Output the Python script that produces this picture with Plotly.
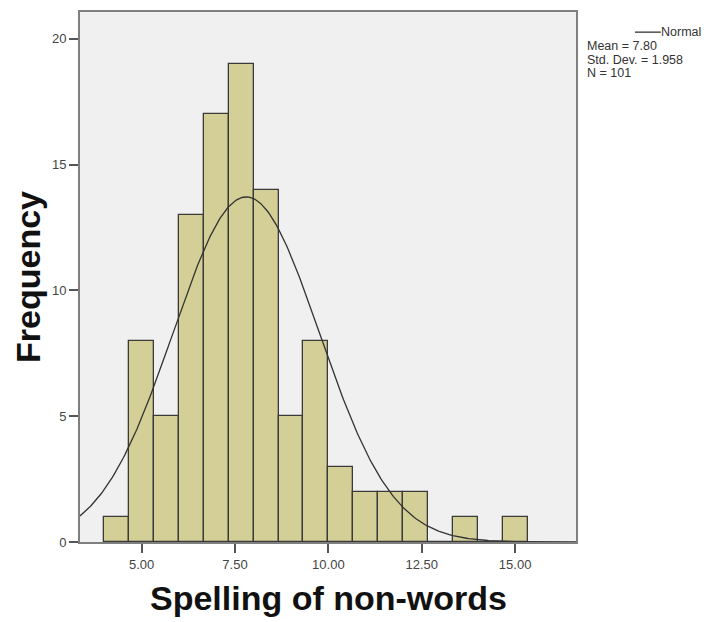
import numpy as np
import plotly.graph_objects as go

# Histogram of spelling of non-words scores (bin counts)
bin_start = 4.0
bin_width = 2.0 / 3.0
counts = [1, 8, 5, 13, 17, 19, 14, 5, 8, 3, 2, 2, 2, 0, 1, 0, 1]

# Summary statistics for the fitted normal curve
mean_val = 7.80
std_val = 1.958
n_val = 101

x_range = [3.35, 16.63]
y_range = [0, 21.07]
x_ticks = [5.0, 7.5, 10.0, 12.5, 15.0]
y_ticks = [0, 5, 10, 15, 20]

centers = [bin_start + bin_width * (i + 0.5) for i in range(len(counts))]

xs = np.linspace(x_range[0], x_range[1], 400)
ys = n_val * bin_width / (std_val * np.sqrt(2 * np.pi)) * np.exp(-0.5 * ((xs - mean_val) / std_val) ** 2)

fig = go.Figure()
fig.add_trace(go.Bar(
    x=centers, y=counts, width=bin_width,
    marker=dict(color="#D4CF96", line=dict(color="#3A3A3A", width=1.3)),
    showlegend=False, hoverinfo="x+y",
))
fig.add_trace(go.Scatter(
    x=xs, y=ys, mode="lines",
    line=dict(color="#333333", width=1.3),
    showlegend=False, hoverinfo="skip",
))

axis_common = dict(
    showline=True, mirror=True, linecolor="#7F7F7F", linewidth=2,
    ticks="outside", ticklen=9, tickwidth=1.5, tickcolor="#555555",
    showgrid=False, zeroline=False,
    tickfont=dict(family="Liberation Sans, Arial, sans-serif", size=13, color="#444444"),
)

fig.update_layout(
    width=704, height=622,
    margin=dict(l=80, r=128, t=10, b=80),
    paper_bgcolor="white", plot_bgcolor="#F0F0F0",
    bargap=0,
    xaxis=dict(range=x_range, tickvals=x_ticks, tickformat=".2f", **axis_common),
    yaxis=dict(range=y_range, tickvals=y_ticks, **axis_common),
)

title_font = dict(family="Liberation Sans, Arial, sans-serif", size=34, color="#111111")
fig.add_annotation(
    text="<b>Spelling of non-words</b>", xref="paper", yref="paper",
    x=0.5, y=-0.105, xanchor="center", yanchor="middle", showarrow=False, font=title_font,
)
fig.add_annotation(
    text="<b>Frequency</b>", xref="paper", yref="paper",
    x=-0.105, y=0.5, xanchor="center", yanchor="middle", textangle=-90,
    showarrow=False, font=title_font,
)

# Legend block for the normal curve and its statistics
legend_font = dict(family="Liberation Sans, Arial, sans-serif", size=12.5, color="#333333")
fig.add_shape(type="line", xref="paper", yref="paper",
              x0=1.119, x1=1.171, y0=0.962, y1=0.962,
              line=dict(color="#333333", width=1.3))
fig.add_annotation(text="Normal", xref="paper", yref="paper", x=1.256, y=0.962,
                   xanchor="right", yanchor="middle", showarrow=False, font=legend_font)
stats_lines = [f"Mean = {mean_val:.2f}", f"Std. Dev. = {std_val:.3f}", f"N = {n_val}"]
for line_text, ypos in zip(stats_lines, [0.936, 0.910, 0.884]):
    fig.add_annotation(text=line_text, xref="paper", yref="paper", x=1.018, y=ypos,
                       xanchor="left", yanchor="middle", align="left", showarrow=False,
                       font=legend_font)

fig.write_html("out.html")
